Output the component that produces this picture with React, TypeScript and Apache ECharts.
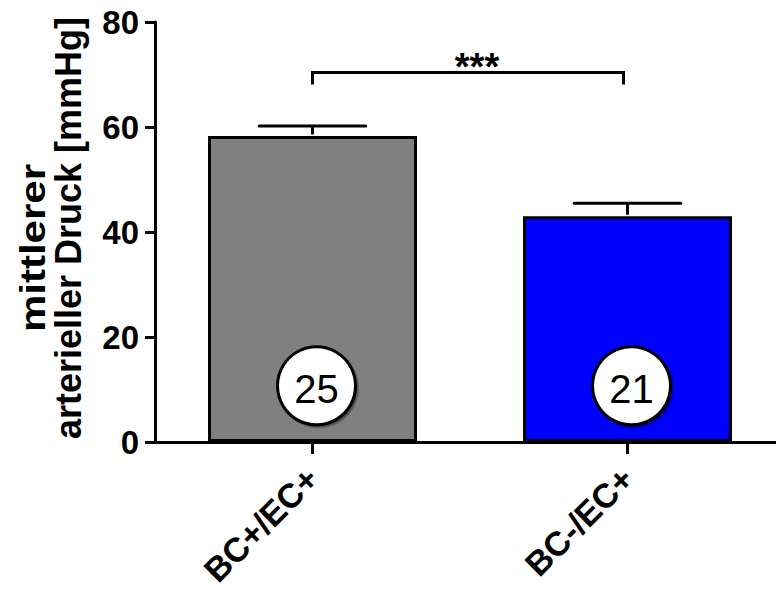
import React, { useEffect, useRef } from "react";
import * as echarts from "echarts";

const categories = ["BC+/EC+", "BC-/EC+"];
const means = [58.3, 43.0];
const sems = [1.9, 2.5];
const nValues = [25, 21];
const nLabelLevel = 10.7;
const bracketLevel = 70.4;
const bracketLegLevel = 68.1;
const bracketLabel = "***";
const yMin = 0;
const yMax = 80;
const yInterval = 20;
const yTitleLine1 = "mittlerer";
const yTitleLine2 = "arterieller Druck [mmHg]";

const FONT = "'Liberation Sans', Arial, Helvetica, sans-serif";

export default function App() {
  const ref = useRef<HTMLDivElement>(null);

  useEffect(() => {
    if (!ref.current) return;
    const chart = echarts.init(ref.current, null, { renderer: "svg" });

    const option: any = {
      animation: false,
      backgroundColor: "#ffffff",
      grid: {
        left: 155,
        top: 22,
        height: 420,
        width: 630,
        containLabel: false,
        outerBoundsMode: "none",
      },
      graphic: [
        {
          type: "text",
          x: 33,
          y: 248,
          rotation: Math.PI / 2,
          scaleX: 1.2,
          style: {
            text: yTitleLine1,
            fontSize: 35,
            fontWeight: "bold",
            fontFamily: FONT,
            fill: "#000",
            align: "center",
            verticalAlign: "middle",
          },
        },
        {
          type: "text",
          x: 68,
          y: 228,
          rotation: Math.PI / 2,
          style: {
            text: yTitleLine2,
            fontSize: 36,
            fontWeight: "bold",
            fontFamily: FONT,
            fill: "#000",
            align: "center",
            verticalAlign: "middle",
          },
        },
      ],
      xAxis: {
        type: "category",
        data: categories,
        boundaryGap: true,
        axisLine: { show: true, lineStyle: { color: "#000", width: 3 } },
        axisTick: { show: true, alignWithLabel: true, length: 12, lineStyle: { color: "#000", width: 3 } },
        axisLabel: {
          rotate: 45,
          margin: 31,
          fontSize: 34,
          fontWeight: "bold",
          fontFamily: FONT,
          color: "#000",
        },
        splitLine: { show: false },
      },
      yAxis: {
        type: "value",
        min: yMin,
        max: yMax,
        interval: yInterval,
        axisLine: { show: true, lineStyle: { color: "#000", width: 3 } },
        axisTick: { show: true, length: 10, lineStyle: { color: "#000", width: 3 } },
        axisLabel: {
          margin: 16,
          fontSize: 33,
          fontWeight: "bold",
          fontFamily: FONT,
          color: "#000",
        },
        splitLine: { show: false },
      },
      series: [
        {
          type: "bar",
          data: means.map((m, i) => ({
            value: m,
            itemStyle: { color: i === 0 ? "#808080" : "#0000ff" },
          })),
          barWidth: 209,
          itemStyle: { borderColor: "#000", borderWidth: 3 },
          z: 2,
        },
        {
          type: "custom",
          data: means.map((m, i) => [i, m, sems[i]]),
          encode: { x: 0, y: 1 },
          z: 3,
          renderItem: (params: any, api: any) => {
            const idx = api.value(0);
            const m = api.value(1);
            const e = api.value(2);
            const p0 = api.coord([idx, m]);
            const p1 = api.coord([idx, m + e]);
            const half = api.size([1, 0])[0] * 0.169;
            const st = { stroke: "#000", lineWidth: 3 };
            return {
              type: "group",
              children: [
                { type: "line", shape: { x1: p0[0], y1: p0[1] - 1.5, x2: p1[0], y2: p1[1] }, style: st },
                { type: "line", shape: { x1: p1[0] - half, y1: p1[1], x2: p1[0] + half, y2: p1[1] }, style: { ...st, lineCap: "round" } },
              ],
            };
          },
        },
        {
          type: "custom",
          data: nValues.map((n, i) => [i, nLabelLevel, n]),
          encode: { x: 0, y: 1 },
          z: 4,
          renderItem: (params: any, api: any) => {
            const idx = api.value(0);
            const lvl = api.value(1);
            const n = api.value(2);
            const c = api.coord([idx, lvl]);
            const cx = c[0] + 4;
            const cy = c[1];
            return {
              type: "group",
              children: [
                {
                  type: "circle",
                  shape: { cx: cx + 2, cy: cy + 2, r: 39 },
                  style: { fill: "rgba(0,0,0,0.3)", stroke: "rgba(0,0,0,0.25)", lineWidth: 3 },
                },
                {
                  type: "circle",
                  shape: { cx, cy, r: 39 },
                  style: { fill: "#ffffff", stroke: "#000", lineWidth: 3 },
                },
                {
                  type: "text",
                  style: {
                    x: cx,
                    y: cy + 3,
                    text: String(n),
                    fontSize: 40,
                    fontFamily: FONT,
                    fill: "#000",
                    align: "center",
                    verticalAlign: "middle",
                  },
                },
              ],
            };
          },
        },
        {
          type: "custom",
          data: [[0, 1, bracketLevel, bracketLegLevel]],
          encode: { x: 0, y: 2 },
          z: 5,
          renderItem: (params: any, api: any) => {
            const a = api.coord([api.value(0), api.value(2)]);
            const b = api.coord([api.value(1), api.value(2)]);
            const aLeg = api.coord([api.value(0), api.value(3)]);
            const bLeg = api.coord([api.value(1), api.value(3)]);
            return {
              type: "group",
              children: [
                {
                  type: "polyline",
                  shape: {
                    points: [
                      [a[0], aLeg[1]],
                      [a[0], a[1]],
                      [b[0] - 4, b[1]],
                      [b[0] - 4, bLeg[1]],
                    ],
                  },
                  style: { stroke: "#000", lineWidth: 3, fill: "none" },
                },
                {
                  type: "text",
                  style: {
                    x: (a[0] + b[0]) / 2 + 7,
                    y: a[1] - 5,
                    text: bracketLabel,
                    fontSize: 38,
                    fontWeight: "bold",
                    fontFamily: FONT,
                    fill: "#000",
                    align: "center",
                    verticalAlign: "middle",
                  },
                },
              ],
            };
          },
        },
      ],
    };

    chart.setOption(option);
    return () => chart.dispose();
  }, []);

  return (
    <div
      style={{ position: "absolute", left: 0, top: 0, width: 776, height: 590, overflow: "hidden", background: "#fff" }}
    >
      <div ref={ref} style={{ width: 800, height: 590 }} />
    </div>
  );
}
